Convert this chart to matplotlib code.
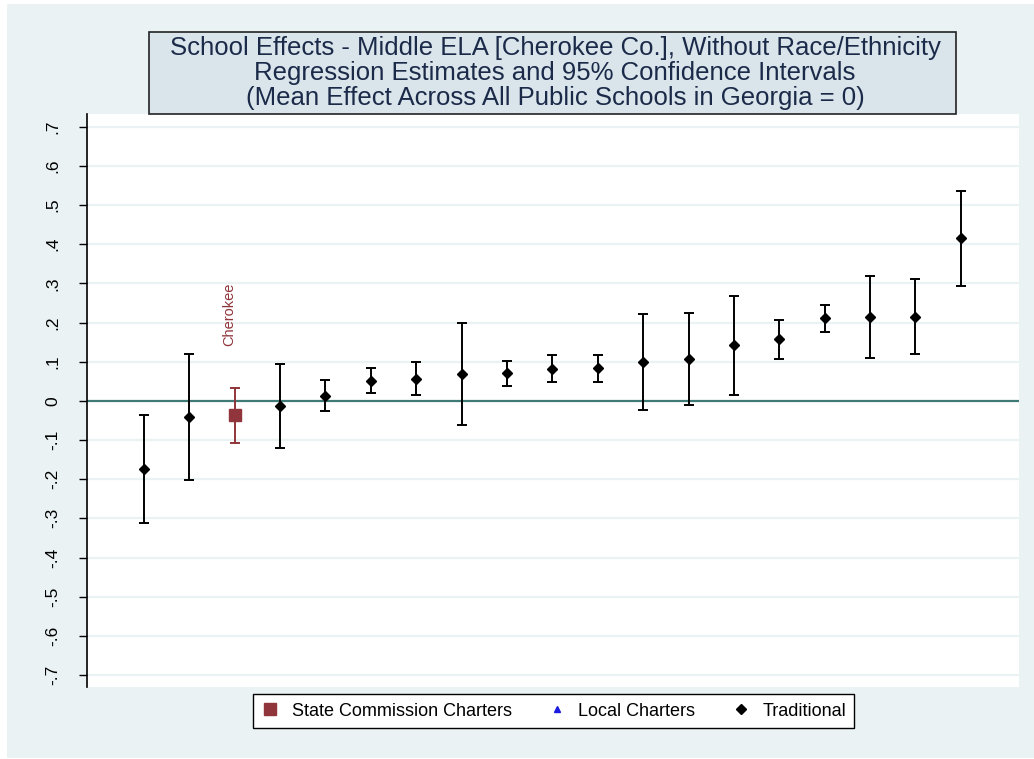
import matplotlib
matplotlib.use("Agg")
import matplotlib.pyplot as plt
from matplotlib.patches import Rectangle
from matplotlib.lines import Line2D
import numpy as np

plt.rcParams['font.family'] = ['Liberation Sans', 'DejaVu Sans']

# ---- data ----
school_rank = list(range(1, 20))
estimates = [-0.174, -0.042, -0.037, -0.012, 0.013, 0.051, 0.055, 0.069, 0.070, 0.081,
             0.083, 0.100, 0.107, 0.142, 0.158, 0.211, 0.215, 0.215, 0.415]
ci_low = [-0.313, -0.203, -0.107, -0.120, -0.026, 0.019, 0.015, -0.061, 0.039, 0.048,
          0.049, -0.023, -0.010, 0.015, 0.107, 0.176, 0.109, 0.120, 0.293]
ci_high = [-0.035, 0.120, 0.033, 0.095, 0.053, 0.085, 0.098, 0.198, 0.102, 0.116,
           0.116, 0.221, 0.224, 0.268, 0.207, 0.246, 0.320, 0.310, 0.535]
school_type = ['Traditional', 'Traditional', 'State Commission Charters'] + ['Traditional'] * 16
school_label = ['', '', 'Cherokee'] + [''] * 16
legend_labels = ['State Commission Charters', 'Local Charters', 'Traditional']
y_ticks = [-0.7, -0.6, -0.5, -0.4, -0.3, -0.2, -0.1, 0, 0.1, 0.2, 0.3, 0.4, 0.5, 0.6, 0.7]
y_tick_labels = ['-.7', '-.6', '-.5', '-.4', '-.3', '-.2', '-.1', '0',
                 '.1', '.2', '.3', '.4', '.5', '.6', '.7']
title_lines = ['School Effects - Middle ELA [Cherokee Co.], Without Race/Ethnicity',
               'Regression Estimates and 95% Confidence Intervals',
               '(Mean Effect Across All Public Schools in Georgia = 0)']

# ---- style ----
W, H = 1034, 759
BG = '#EAF2F3'
TITLE_BG = '#D9E5EA'
RED = '#90353B'
BLUE = '#1A1AE0'
styles = {
    'State Commission Charters': dict(color=RED, marker='s', ms=8.5),
    'Local Charters': dict(color=BLUE, marker='^', ms=6),
    'Traditional': dict(color='black', marker='D', ms=4.6),
}

fig = plt.figure(figsize=(W / 100, H / 100), dpi=100, facecolor='white')

def fx(px):
    return px / W

def fy(py):
    return 1 - py / H

# graph region background
fig.patches.append(Rectangle((fx(7), fy(758)), fx(W) - fx(7), fy(4) - fy(758),
                             transform=fig.transFigure, facecolor=BG, edgecolor='none', zorder=-10))

ax = fig.add_axes([fx(87), fy(687), fx(1019) - fx(87), fy(114) - fy(687)])
ax.set_zorder(1)
ax.set_facecolor('white')
ax.set_xlim(-0.25, 20.28)
ax.set_ylim(-0.7306, 0.7324)

for yt in y_ticks:
    if yt != 0:
        ax.axhline(yt, color=BG, lw=1.6, zorder=1)
ax.axhline(0, color='#3F7A76', lw=1.6, zorder=2)

for name in legend_labels:
    idx = [i for i, t in enumerate(school_type) if t == name]
    xs = np.array([school_rank[i] for i in idx], dtype=float)
    ys = np.array([estimates[i] for i in idx], dtype=float)
    lo = np.array([ci_low[i] for i in idx], dtype=float)
    hi = np.array([ci_high[i] for i in idx], dtype=float)
    st = styles[name]
    if len(xs):
        ax.errorbar(xs, ys, yerr=[ys - lo, hi - ys], fmt='none', ecolor=st['color'],
                    elinewidth=1.4, capsize=3.8, capthick=1.4, zorder=3)
        ax.plot(xs, ys, linestyle='none', marker=st['marker'], color=st['color'],
                ms=st['ms'], mec=st['color'], zorder=4)

for i, lab in enumerate(school_label):
    if lab:
        ax.annotate(lab, xy=(school_rank[i], estimates[i]), xytext=(-4, 50),
                    textcoords='offset points', rotation=90, ha='center', va='bottom',
                    color=RED, fontsize=10.5)

ax.set_yticks(y_ticks)
ax.set_yticklabels(y_tick_labels, rotation=90, va='center', fontsize=12.5)
ax.tick_params(axis='y', length=6, width=1, pad=13, color='black')
ax.set_xticks([])
for s in ['top', 'right', 'bottom']:
    ax.spines[s].set_visible(False)
ax.spines['left'].set_linewidth(1.2)

# title box
fig.patches.append(Rectangle((fx(149), fy(114)), fx(956) - fx(149), fy(32) - fy(114),
                             transform=fig.transFigure, facecolor=TITLE_BG,
                             edgecolor='#222222', lw=1.2, zorder=5))
for k, line in enumerate(title_lines):
    fig.text(fx(555), fy(48 + 25 * k), line, ha='center', va='center',
             fontsize=18.5, color='#1C2A4A', zorder=6)

# legend
handles = [Line2D([], [], linestyle='none', marker=styles[n]['marker'], color=styles[n]['color'],
                  ms={'State Commission Charters': 8, 'Local Charters': 5, 'Traditional': 5}[n])
           for n in legend_labels]
leg = fig.legend(handles, legend_labels, loc='center', bbox_to_anchor=(fx(553.5), fy(711)),
                 ncol=3, frameon=True, fancybox=False, edgecolor='black', fontsize=13,
                 handlelength=1.0, handletextpad=0.7, columnspacing=2.0, borderpad=0.45,
                 framealpha=1)
leg.get_frame().set_linewidth(1.0)
leg.get_frame().set_facecolor('white')
leg.set_zorder(10)

fig.savefig('out.png', dpi=100, facecolor='white')
